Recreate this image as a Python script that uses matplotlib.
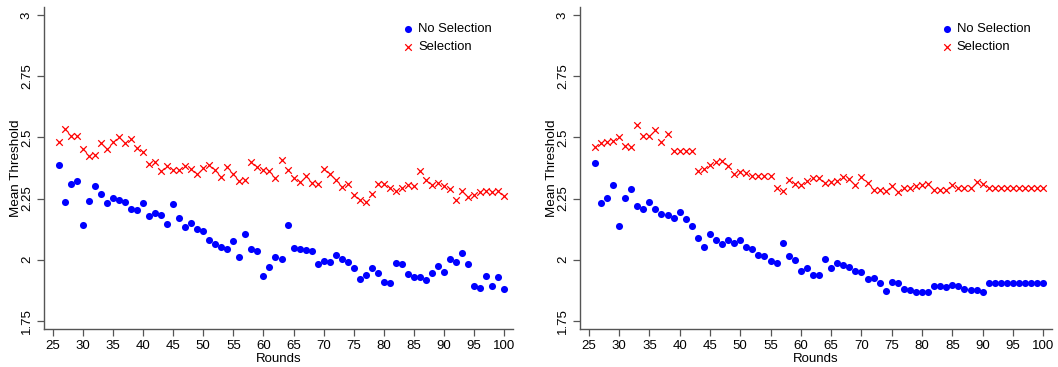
import numpy as np
import matplotlib
matplotlib.use("Agg")
import matplotlib.pyplot as plt

plt.rcParams['font.family'] = ['Liberation Sans', 'DejaVu Sans']

rounds = list(range(26, 101))

left_no_selection = [
    2.387, 2.236, 2.310, 2.323, 2.144, 2.240, 2.300, 2.270, 2.231, 2.251,
    2.244, 2.238, 2.208, 2.202, 2.231, 2.178, 2.191, 2.182, 2.148, 2.227,
    2.172, 2.133, 2.150, 2.127, 2.118, 2.080, 2.065, 2.054, 2.046, 2.078,
    2.010, 2.105, 2.044, 2.037, 1.933, 1.970, 2.010, 2.005, 2.142, 2.050,
    2.044, 2.041, 2.035, 1.982, 1.996, 1.990, 2.018, 2.003, 1.990, 1.965,
    1.921, 1.937, 1.965, 1.944, 1.910, 1.903, 1.988, 1.984, 1.941, 1.931,
    1.931, 1.918, 1.946, 1.974, 1.948, 2.005, 1.990, 2.026, 1.984, 1.892,
    1.886, 1.933, 1.892, 1.931, 1.880,
]
left_selection = [
    2.481, 2.535, 2.505, 2.504, 2.451, 2.426, 2.430, 2.479, 2.451, 2.483,
    2.500, 2.477, 2.493, 2.455, 2.440, 2.391, 2.400, 2.362, 2.384, 2.368,
    2.368, 2.384, 2.369, 2.349, 2.376, 2.388, 2.365, 2.339, 2.381, 2.349,
    2.321, 2.325, 2.399, 2.379, 2.365, 2.362, 2.335, 2.409, 2.368, 2.335,
    2.316, 2.344, 2.313, 2.310, 2.369, 2.350, 2.324, 2.298, 2.310, 2.266,
    2.244, 2.236, 2.270, 2.309, 2.310, 2.295, 2.281, 2.295, 2.305, 2.300,
    2.361, 2.324, 2.304, 2.315, 2.300, 2.291, 2.244, 2.281, 2.255, 2.263,
    2.275, 2.281, 2.278, 2.281, 2.259,
]
right_no_selection = [
    2.396, 2.233, 2.251, 2.305, 2.138, 2.251, 2.291, 2.219, 2.206, 2.236,
    2.206, 2.188, 2.182, 2.169, 2.196, 2.165, 2.138, 2.087, 2.052, 2.105,
    2.082, 2.064, 2.079, 2.069, 2.079, 2.052, 2.042, 2.019, 2.015, 1.993,
    1.988, 2.069, 2.015, 1.997, 1.955, 1.966, 1.937, 1.937, 2.005, 1.965,
    1.988, 1.978, 1.969, 1.955, 1.951, 1.920, 1.926, 1.906, 1.873, 1.911,
    1.906, 1.879, 1.875, 1.869, 1.869, 1.869, 1.892, 1.892, 1.888, 1.898,
    1.892, 1.879, 1.875, 1.875, 1.869, 1.906, 1.906, 1.906, 1.906, 1.906,
    1.906, 1.906, 1.906, 1.906, 1.906,
]
right_selection = [
    2.460, 2.478, 2.483, 2.486, 2.502, 2.464, 2.460, 2.549, 2.504, 2.504,
    2.530, 2.483, 2.512, 2.445, 2.443, 2.445, 2.443, 2.362, 2.372, 2.387,
    2.399, 2.404, 2.385, 2.351, 2.359, 2.354, 2.342, 2.344, 2.342, 2.342,
    2.294, 2.283, 2.327, 2.310, 2.304, 2.321, 2.335, 2.336, 2.313, 2.316,
    2.320, 2.340, 2.330, 2.306, 2.340, 2.312, 2.287, 2.287, 2.282, 2.300,
    2.278, 2.294, 2.293, 2.302, 2.304, 2.309, 2.287, 2.286, 2.287, 2.305,
    2.293, 2.293, 2.293, 2.316, 2.310, 2.293, 2.293, 2.293, 2.293, 2.293,
    2.293, 2.293, 2.293, 2.293, 2.293,
]

x_ticks = list(range(25, 101, 5))
y_ticks = [1.75, 2.0, 2.25, 2.5, 2.75, 3.0]
y_tick_labels = ["1.75", "2", "2.25", "2.5", "2.75", "3"]
series_labels = ["No Selection", "Selection"]

W, H = 1058, 367
fig = plt.figure(figsize=(W / 100, H / 100), dpi=100)

panels = [
    (44, 512.7, left_no_selection, left_selection),
    (580, 1051.7, right_no_selection, right_selection),
]
for (x0, x1, ns, sel) in panels:
    ax = fig.add_axes([x0 / W, 1 - 329 / H, (x1 - x0) / W, (329 - 7) / H])
    ax.scatter(rounds, ns, s=26, color='#0000ff', marker='o', linewidths=0,
               label=series_labels[0], zorder=3)
    ax.scatter(rounds, sel, s=22, color='#ff0000', marker='x', linewidths=0.9,
               label=series_labels[1], zorder=3)
    ax.set_xlim(23.55, 101.4)
    ax.set_ylim(1.717, 3.033)
    ax.set_xticks(x_ticks)
    ax.set_yticks(y_ticks)
    ax.set_yticklabels(y_tick_labels, rotation=90, va='center')
    for s in ['top', 'right']:
        ax.spines[s].set_visible(False)
    for s in ['left', 'bottom']:
        ax.spines[s].set_color('#555555')
        ax.spines[s].set_linewidth(1.0)
    ax.tick_params(direction='out', length=5, width=0.9, color='#555555',
                   labelsize=9.5, pad=3)
    ax.set_xlabel("Rounds", fontsize=9.5, labelpad=1)
    ax.set_ylabel("Mean Threshold", fontsize=9.7, labelpad=-0.5)
    leg = ax.legend(loc='upper right', bbox_to_anchor=(0.972, 0.975), frameon=False,
                    fontsize=9.4, handletextpad=0.25, labelspacing=0.45,
                    borderaxespad=0.2, handlelength=1.0)

fig.savefig("out.png", dpi=100)
